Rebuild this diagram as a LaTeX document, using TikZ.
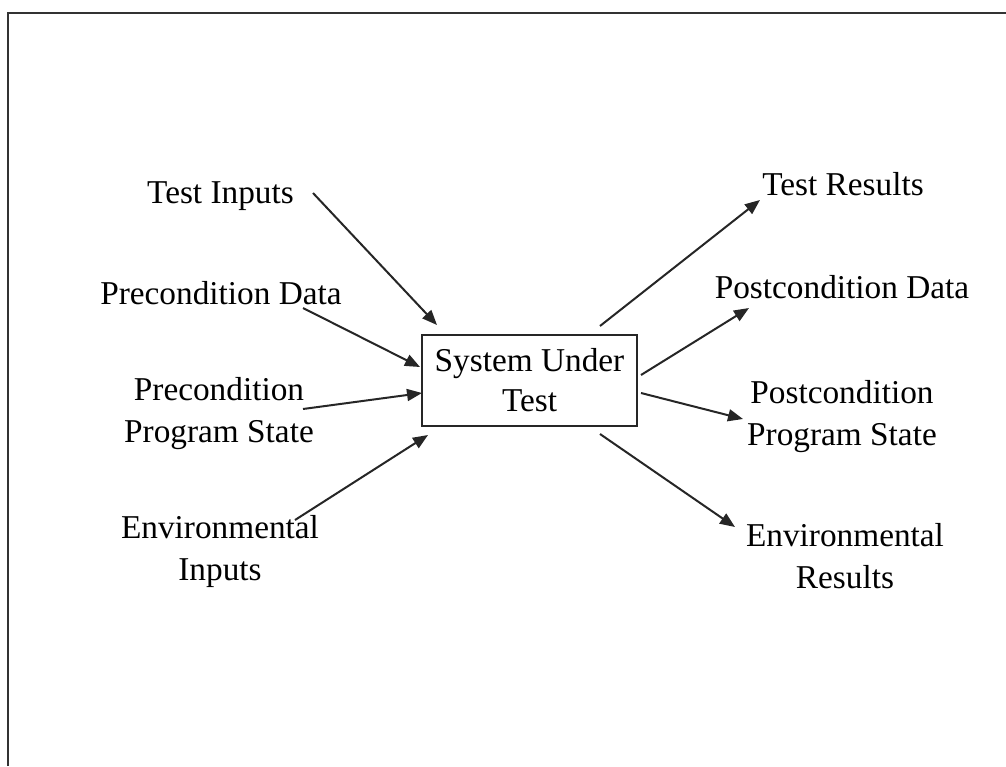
\documentclass[tikz,border=0pt]{standalone}
\usepackage{fontspec}
\setmainfont{Liberation Serif}
\usetikzlibrary{arrows.meta}
\begin{document}
\begin{tikzpicture}[x=1pt,y=-1pt,
  lbl/.style={font=\fontsize{33.3}{41.5}\selectfont, align=center, anchor=base, inner sep=0pt},
  sutbox/.style={draw=black!85, line width=2pt, minimum width=215pt, minimum height=91pt, inner sep=0pt,
    font=\fontsize{33.3}{40}\selectfont, align=center},
  conn/.style={line width=2pt, draw=black!85, -{Triangle[length=15pt,width=12pt]}},
  frame/.style={line width=2.5pt, draw=black!80}
  ]
\useasboundingbox (0,0) rectangle (1006,766);
\draw[frame] (8,766) -- (8,13) -- (1006,13);

\node[sutbox] (sut) at (529.5,380.5) {System Under\\Test};

% multi-line labels are anchored at the baseline of their last line
\node[lbl] (ti) at (220.5,203) {Test Inputs};
\node[lbl] (pd) at (221,304) {Precondition Data};
\node[lbl] (ps) at (219,442) {Precondition\\Program State};
\node[lbl] (ei) at (220,580) {Environmental\\Inputs};
\node[lbl] (tr) at (843,195) {Test Results};
\node[lbl] (qd) at (842,298) {Postcondition Data};
\node[lbl] (qs) at (842,445) {Postcondition\\Program State};
\node[lbl] (er) at (845,588) {Environmental\\Results};

\coordinate (tis) at (313,193);  \coordinate (tie) at (437,325);
\coordinate (pds) at (303,308);  \coordinate (pde) at (420,367);
\coordinate (pss) at (303,409);  \coordinate (pse) at (422,393);
\coordinate (eis) at (295,520);  \coordinate (eie) at (428,435);
\coordinate (trs) at (600,326);  \coordinate (tre) at (760,200);
\coordinate (qds) at (641,375);  \coordinate (qde) at (749,308);
\coordinate (qss) at (641,393);  \coordinate (qse) at (743,419);
\coordinate (ers) at (600,434);  \coordinate (ere) at (735,527);

\draw[conn] (tis) -- (tie);
\draw[conn] (pds) -- (pde);
\draw[conn] (pss) -- (pse);
\draw[conn] (eis) -- (eie);
\draw[conn] (trs) -- (tre);
\draw[conn] (qds) -- (qde);
\draw[conn] (qss) -- (qse);
\draw[conn] (ers) -- (ere);
\end{tikzpicture}
\end{document}
